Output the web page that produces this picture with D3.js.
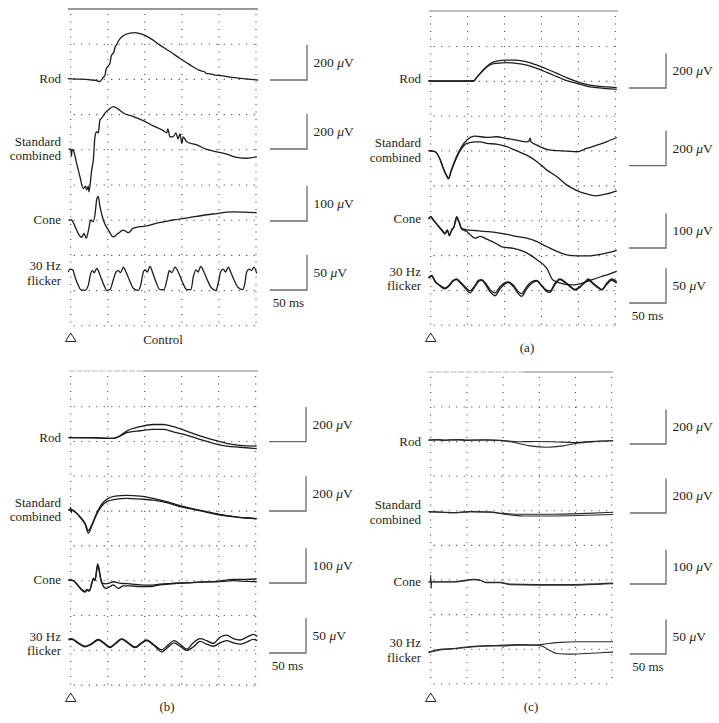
<!DOCTYPE html>
<html>
<head>
<meta charset="utf-8">
<title>ERG traces</title>
<script src="https://d3js.org/d3.v7.min.js"></script>
<style>
  body { margin: 0; background: #fff; }
</style>
</head>
<body>
<div id="chart"></div>
<script>
// trace data: [time in ms after flash, amplitude in microvolts]
const ctrlRod = [[-4,2],[12,-1],[26,-5],[35,-9],[39,-15],[44,10],[46,17],[48,60],[51,75],[53,90],[55,135],[58,150],[60,183],[62,195],[64,213],[71,246],[80,261],[87,264],[96,255],[107,232],[120,194],[134,156],[147,118],[161,80],[175,47],[181,40],[183,32],[188,29],[195,22],[202,19],[215,11],[229,4],[243,-2],[253,-6]]
const ctrlStd = [[-3,3],[0,6],[1,-34],[2,4],[4,-6],[8,-76],[12.5,-152],[17,-219],[20,-206],[21.6,-228],[23.7,-206],[24.7,-238],[28.3,-114],[30.5,-57],[32.8,76],[35,104],[37.2,97],[39.5,171],[41.8,181],[46.3,210],[50.7,228],[57.5,247],[64.2,232],[71,210],[84.4,190],[98,167],[111.4,137],[125,110],[129.5,97],[131,120],[134,74],[138.4,76],[142,97],[144.6,63],[147.4,91],[150,38],[151.7,74],[156.5,47],[170,29],[183.4,4],[197,-10],[210.4,-23],[224,-42],[237.4,-47],[251,-38]]
const ctrlCone = [[-3,0],[1,0],[6,-19],[10,-38],[15,-49],[18,-38],[21,-52],[24,-29],[27,0],[30,-5],[33,19],[35,57],[37,67],[39.5,38],[44,0],[51,-29],[57.5,-48],[64,-38],[71,-29],[78,-36],[84,-24],[93.5,-19],[102.5,-17],[116,-9],[138,0],[165,9],[192,17],[219,23],[251,21]]
const ctrlFlicker = [[-3.2,0],[-1,4],[2.7,3],[5.8,-7],[10.3,-19],[13.5,-25],[19.3,-26],[23.7,-19],[27,-2],[29.1,2],[31.8,-1],[35,5],[37.2,2],[40.5,-7],[45,-19],[48.6,-26],[53,-25],[57.5,-11],[61.1,0],[64.2,2],[67.4,-1],[71,7],[74.6,0],[79,-11],[84.4,-23],[91.2,-26],[94.4,-19],[98,0],[100.2,3],[103.3,0],[107,8],[110.6,-1],[115,-14],[120.4,-25],[125.8,-25],[130.3,-9],[133,2],[136.6,-1],[140.7,7],[145.1,0],[151,-15],[156.5,-25],[162.3,-25],[165.4,-7],[169,3],[172,0],[175.3,8],[179.8,0],[184.2,-11],[190.2,-23],[196,-26],[199,-16],[202.3,0],[205.8,4],[209,0],[212.6,7],[215.8,0],[220.3,-11],[226,-22],[232,-25],[235,-16],[237.4,0],[241,4],[244,2],[247.2,7],[251,-2]]

const aRod1 = [[-3,0],[30,0],[58,0],[62,19],[71,63],[80,97],[89,114],[103,120],[116,120],[130,110],[144,91],[157,69],[171,44],[184,19],[198,-4],[211,-19],[225,-29],[238,-34],[252,-38]]
const aRod2 = [[-3,0],[30,-1],[58,0],[62,19],[71,60],[80,92],[89,101],[103,105],[116,101],[130,91],[144,72],[157,50],[171,25],[184,2],[198,-13],[211,-29],[225,-38],[238,-44],[252,-48]]
const aStd1 = [[-3,0],[6,-6],[13,-53],[17,-101],[22.5,-149],[24,-158],[28,-110],[35,-34],[42,23],[49,61],[60,84],[76,76],[89,80],[103,70],[116,61],[130,51],[133,55],[134.5,72],[136,51],[144,32],[157,8],[171,0],[184,-2],[198,-6],[211,13],[225,32],[238,51],[252,76]]
const aStd2 = [[-3,0],[6,-6],[13,-53],[17,-101],[22.5,-152],[24,-162],[28,-115],[35,-40],[42,13],[49,42],[60,51],[67,51],[76,42],[89,38],[103,23],[116,0],[130,-25],[144,-63],[157,-110],[171,-149],[184,-196],[198,-229],[211,-248],[223,-259],[238,-248],[252,-230]]
const aCone1 = [[-3,0],[0,7],[3.6,-3],[8,-14],[15,-31],[19.4,-41],[22.5,-31],[25.3,-46],[28.4,-31],[31.6,-22],[35.2,7],[38.4,-8],[42,-27],[49,-31],[60,-33],[76,-36],[89,-39],[103,-44],[116,-50],[130,-55],[144,-65],[157,-79],[171,-93],[184,-103],[198,-106],[211,-106],[225,-103],[238,-98],[252,-90]]
const aCone2 = [[-3,0],[0,7],[3.6,-3],[8,-14],[15,-33],[19.4,-43],[22.5,-33],[25.3,-48],[28.4,-33],[31.6,-22],[35.2,5],[38.4,-10],[42,-29],[49,-36],[55.5,-49],[60,-55],[67,-50],[76,-58],[89,-71],[98,-81],[112,-84],[125.5,-93],[134.5,-103],[144,-117],[157,-141],[166,-176],[179,-186],[193,-189],[207,-183],[220,-173],[236,-162],[252,-150]]
const aFlicker1 = [[-3,0],[1.4,3],[6,-5],[12.6,-10],[19.4,-14],[23.8,-11],[30.6,-3],[35.2,-1],[39.7,-5],[46.5,-12],[53.2,-18],[60,-10],[64.5,-3],[69,-2],[73.5,-6],[80.3,-16],[87,-21],[94,-12],[100.6,-6],[105,-5],[112,-10],[118.6,-19],[123,-22],[130,-12],[136.8,-5],[143.6,-3],[150.3,-10],[157,-17],[161.6,-18],[168.3,-7],[175,-1],[181.8,-5],[188.6,-11],[195.4,-16],[202,-12],[209,-5],[213.4,-1],[220,-7],[227,-13],[231.6,-16],[238.4,-7],[245,-1],[252,-5]]
const aFlicker2 = [[-3,1],[1.4,4],[6,-4],[12.6,-11],[19.4,-15],[23.8,-12],[30.6,-4],[35.2,-2],[39.7,-6],[46.5,-14],[53.2,-21],[60,-12],[64.5,-5],[69,-3],[73.5,-8],[80.3,-19],[87,-25],[94,-15],[100.6,-8],[105,-6],[112,-12],[118.6,-22],[123,-26],[130,-15],[136.8,-7],[143.6,-4],[150.3,-11],[157,-19],[161.6,-20],[168.3,-9],[175,-2],[181.8,-6],[188.6,-12],[195.4,-17],[202,-13],[209,-6],[213.4,-3],[220,-8],[227,-14],[231.6,-17],[238.4,-9],[245,-3],[252,-7]]

const bRod1 = [[-3,0],[30,0],[57.6,-4],[66,10],[75.7,38],[93.6,63],[111.6,76],[125,76],[138.6,63],[156.7,38],[174.7,10],[192.7,-13],[210.8,-32],[228.8,-44],[251.4,-48]]
const bRod2 = [[-3,0],[30,-1],[57.6,-4],[66,8],[75.7,29],[93.6,40],[111.6,48],[125,48],[138.6,34],[156.7,15],[174.7,-10],[192.7,-32],[210.8,-48],[228.8,-55],[251.4,-63]]
const bStd1 = [[-3,0],[-1,0],[0,15],[0.8,-15],[1.6,0],[5.9,-10],[12.6,-38],[19.4,-76],[23.9,-118],[28.4,-86],[35.1,-19],[41.9,34],[48.6,61],[59.9,80],[75.7,84],[93.6,80],[111.6,67],[129.7,48],[147.7,25],[165.7,6],[183.8,-10],[201.8,-25],[219.7,-38],[237.8,-46],[251.4,-50]]
const bStd2 = [[-3,0],[1.6,0],[5.9,-12],[12.6,-42],[19.4,-82],[23.9,-133],[28.4,-92],[35.1,-25],[41.9,23],[48.6,48],[59.9,61],[75.7,67],[93.6,63],[111.6,57],[129.7,42],[147.7,19],[165.7,4],[183.8,-13],[201.8,-29],[219.7,-38],[237.8,-46],[251.4,-50]]
const bCone1 = [[-3,0],[3.5,-2],[8.1,-11],[13.5,-24],[19.3,-33],[22.4,-27],[25.1,-30],[28.4,-10],[30.5,5],[32.8,0],[35.1,29],[36.5,46],[38.6,29],[40.5,5],[43.2,-10],[47.7,-11],[53.1,-8],[57.6,-5],[64.3,-8],[71.1,-10],[80.1,-11],[93.6,-14],[107.2,-15],[120.7,-12],[138.6,-10],[156.7,-8],[174.7,-6],[197.3,-4],[219.7,2],[237.8,2],[251.4,3]]
const bCone2 = [[-3,0],[3.5,-2],[8.1,-12],[13.5,-26],[19.3,-35],[22.4,-29],[25.1,-32],[28.4,-12],[30.5,3],[32.8,-2],[35.1,27],[36.5,42],[38.6,25],[40.5,2],[43.2,-14],[47.7,-24],[53.1,-19],[57.6,-14],[64.3,-24],[71.1,-17],[80.1,-17],[93.6,-19],[107.2,-19],[120.7,-14],[138.6,-10],[156.7,-8],[174.7,-6],[197.3,-5],[219.7,-2],[237.8,-4],[251.4,-5]]
const bFlicker1 = [[-3.2,1],[1.3,2],[10.3,-4],[19.3,-9],[28.4,-5],[37.4,1],[45,-4],[53.1,-10],[61.2,-4],[68.9,2],[77.9,-4],[86.9,-10],[94.5,-5],[102.7,0],[111.6,-6],[122.9,-14],[131.9,-7],[139.5,-1],[147.7,-6],[156.7,-13],[165.7,-4],[174.7,2],[183.8,-1],[192.7,-5],[201.8,4],[210.8,7],[219.7,2],[228.8,0],[237.8,4],[246.8,8],[252.2,5]]
const bFlicker2 = [[-3.2,0],[1.3,1],[10.3,-5],[19.3,-10],[28.4,-6],[37.4,0],[45,-5],[53.1,-11],[61.2,-5],[68.9,1],[77.9,-5],[86.9,-11],[94.5,-6],[102.7,-1],[111.6,-7],[122.9,-17],[131.9,-10],[139.5,-4],[147.7,-9],[156.7,-15],[165.7,-10],[174.7,-2],[183.8,-6],[192.7,-9],[201.8,-4],[210.8,-1],[219.7,-4],[228.8,-6],[237.8,-3],[246.8,1],[252.2,-1]]

const cRod1 = [[-3,0],[10,2],[20,-1],[27,1],[40,2],[50,-1],[61,0],[75,1],[96,-2],[123,-10],[145,-9],[169,-10],[202,-15],[215,-10],[235,-6],[252,-4]]
const cRod2 = [[-3,-1],[10,1],[20,-2],[27,0],[40,1],[50,-2],[61,-1],[75,0],[96,-3],[110,-10],[137,-34],[160,-42],[183,-34],[202,-19],[225,-10],[252,-4]]
const cStd1 = [[-3,4],[15,1],[31,-2],[54,4],[82,2],[100,-6],[128,-11],[169,-11],[215,-6],[252,0]]
const cStd2 = [[-3,3],[15,0],[31,-3],[54,3],[82,1],[100,-10],[128,-21],[169,-21],[215,-17],[252,-13]]
const cCone1 = [[-3,0],[-0.4,0],[0,19],[0.6,-19],[1.2,0],[31,0],[45,3],[59,7],[68,5],[77,-2],[96,-2],[110,-7],[146,-8],[192,-8],[215,-7],[252,-4]]
const cCone2 = [[-3,-1],[1.2,-1],[31,-1],[45,2],[59,6],[68,4],[77,-3],[96,-3],[110,-9],[146,-10],[192,-10],[215,-9],[252,-6]]
const cFlicker1 = [[-3,-3],[13,1],[31,2],[54,5],[77,6],[100,7],[123,8],[146,7],[160,9],[179,11],[202,12],[225,12],[252,12]]
const cFlicker2 = [[-3,-4],[13,0],[31,2],[54,4],[77,6],[100,6],[123,7],[146,7],[155,5],[165,-1],[174,-5],[192,-6],[215,-5],[234,-4],[252,-3]]

const traceNames = [["Rod"], ["Standard", "combined"], ["Cone"], ["30 Hz", "flicker"]]
const barUnits = [200, 200, 100, 50]
const timeTicks = [0, 50, 100, 150, 200, 250]
const barTime = 50
const panelTitles = ["Control", "(a)", "(b)", "(c)"]

const panelData = [
  [[ctrlRod], [ctrlStd], [ctrlCone], [ctrlFlicker]],
  [[aRod1, aRod2], [aStd1, aStd2], [aCone1, aCone2], [aFlicker1, aFlicker2]],
  [[bRod1, bRod2], [bStd1, bStd2], [bCone1, bCone2], [bFlicker1, bFlicker2]],
  [[cRod1, cRod2], [cStd1, cStd2], [cCone1, cCone2], [cFlicker1, cFlicker2]]
]

const serif = "'Liberation Serif', 'Times New Roman', 'DejaVu Serif', serif"

// layout in pixels for each panel
const layout = [
  { x0: 70.7, x1: 256, top: 9, lineX: [68, 258], split: null, row0: 44.2, step: 35.2,
    base: [79, 150, 220, 272], bars: [80, 149, 221, 290], barX: 307, labelX: 61,
    labelY: [[82.5], [145.5, 160], [224], [270, 284.5]], titleX: 163, titleY: 344, triY: 333, thin: false },
  { x0: 430.7, x1: 615.3, top: 11, lineX: [429, 618], split: null, row0: 46.5, step: 34.85,
    base: [81, 150.7, 219, 278.3], bars: [88, 165.7, 248, 303], barX: 666, labelX: 421,
    labelY: [[83], [147, 161.5], [223], [275.5, 290]], titleX: 527, titleY: 352, triY: 333, thin: false },
  { x0: 70.7, x1: 255.7, top: 371, lineX: [69, 258], split: 143, row0: 406.7, step: 34.8,
    base: [437.7, 510, 580, 640], bars: [441.7, 511, 583, 653], barX: 306, labelX: 61,
    labelY: [[442], [506.5, 521], [584], [640.5, 655]], titleX: 167, titleY: 711, triY: 693, thin: false },
  { x0: 430.7, x1: 611.7, top: 372, lineX: [428, 613], split: 523, row0: 407, step: 34.6,
    base: [440, 512.3, 581.7, 650], bars: [444, 513, 584, 654], barX: 666, labelX: 421,
    labelY: [[446], [509, 523.5], [586], [647, 661.5]], titleX: 531, titleY: 711, triY: 693, thin: true }
]

const svg = d3.select("#chart").append("svg")
  .attr("width", 719).attr("height", 723)
  .style("font-family", serif)

layout.forEach((p, pi) => {
  const g = svg.append("g")
  const xScale = d3.scaleLinear().domain([0, 250]).range([p.x0, p.x1])
  const rowY = d3.range(9).map(i => p.row0 + i * p.step)

  // top rule
  if (p.split) {
    g.append("line").attr("x1", p.lineX[0]).attr("x2", p.split).attr("y1", p.top).attr("y2", p.top)
      .style("stroke", "#b5b5b5").style("stroke-width", 1.2).style("stroke-dasharray", "6,1.5")
    g.append("line").attr("x1", p.split).attr("x2", p.lineX[1]).attr("y1", p.top).attr("y2", p.top)
      .style("stroke", "#808080").style("stroke-width", 1.2)
  } else {
    g.append("line").attr("x1", p.lineX[0]).attr("x2", p.lineX[1]).attr("y1", p.top).attr("y2", p.top)
      .style("stroke", pi == 0 ? "#333" : "#808080").style("stroke-width", 1.2)
  }

  // dotted grid
  g.selectAll(".vgrid").data(timeTicks).enter().append("line")
    .attr("x1", d => xScale(d)).attr("x2", d => xScale(d))
    .attr("y1", p.top + 5).attr("y2", rowY[8] + 1)
    .style("stroke", "#444").style("stroke-width", 1.1).style("stroke-dasharray", "1.1,6.4")
  g.selectAll(".hgrid").data(rowY).enter().append("line")
    .attr("x1", xScale(0) + 3).attr("x2", xScale(250) + 1)
    .attr("y1", d => d).attr("y2", d => d)
    .style("stroke", "#444").style("stroke-width", 1.1).style("stroke-dasharray", "1.1,6.4")

  panelData[pi].forEach((traces, k) => {
    const yScale = d3.scaleLinear().domain([0, barUnits[k]]).range([p.base[k], p.base[k] - p.step])
    const line = d3.line().x(d => xScale(d[0])).y(d => yScale(d[1])).curve(d3.curveMonotoneX)

    g.selectAll(".trace" + k).data(traces).enter().append("path")
      .attr("d", line)
      .style("fill", "none")
      .style("stroke", p.thin ? "#2a2a2a" : "#1c1c1c")
      .style("stroke-width", p.thin ? 1.1 : 1.3)
      .style("stroke-linejoin", "round")

    // trace name, one text per line
    traceNames[k].forEach((s, j) => {
      g.append("text").attr("x", p.labelX).attr("y", p.labelY[k][j])
        .attr("text-anchor", "end")
        .style("font-family", serif).style("font-size", "13px").style("fill", "#231f20")
        .text(s)
    })

    // calibration bar
    const barH = yScale(0) - yScale(barUnits[k])
    const barW = xScale(barTime) - xScale(0)
    const yb = p.bars[k]
    g.append("path")
      .attr("d", `M${p.barX - barW},${yb}H${p.barX}V${yb - barH}`)
      .style("fill", "none").style("stroke", "#6b6b6b").style("stroke-width", 1.3)
    const t = g.append("text").attr("x", p.barX + 6.5).attr("y", yb - barH / 2 + 4.5)
      .style("font-family", serif).style("font-size", "13.5px").style("fill", "#231f20")
    t.append("tspan").text(barUnits[k] + " ")
    t.append("tspan").style("font-style", "italic").text("\u03bc")
    t.append("tspan").text("V")

    if (k == 3) {
      g.append("text").attr("x", p.barX - barW / 2).attr("y", yb + 17)
        .attr("text-anchor", "middle")
        .style("font-family", serif).style("font-size", "13px").style("fill", "#231f20")
        .text(barTime + " ms")
    }
  })

  // stimulus marker
  const tx = xScale(0)
  g.append("path")
    .attr("d", `M${tx},${p.triY}L${tx + 5.3},${p.triY + 8.5}L${tx - 5.3},${p.triY + 8.5}Z`)
    .style("fill", "none").style("stroke", "#231f20").style("stroke-width", 1)

  g.append("text").attr("x", p.titleX).attr("y", p.titleY)
    .attr("text-anchor", "middle")
    .style("font-family", serif).style("font-size", "13px").style("fill", "#231f20")
    .text(panelTitles[pi])
})
</script>
</body>
</html>
